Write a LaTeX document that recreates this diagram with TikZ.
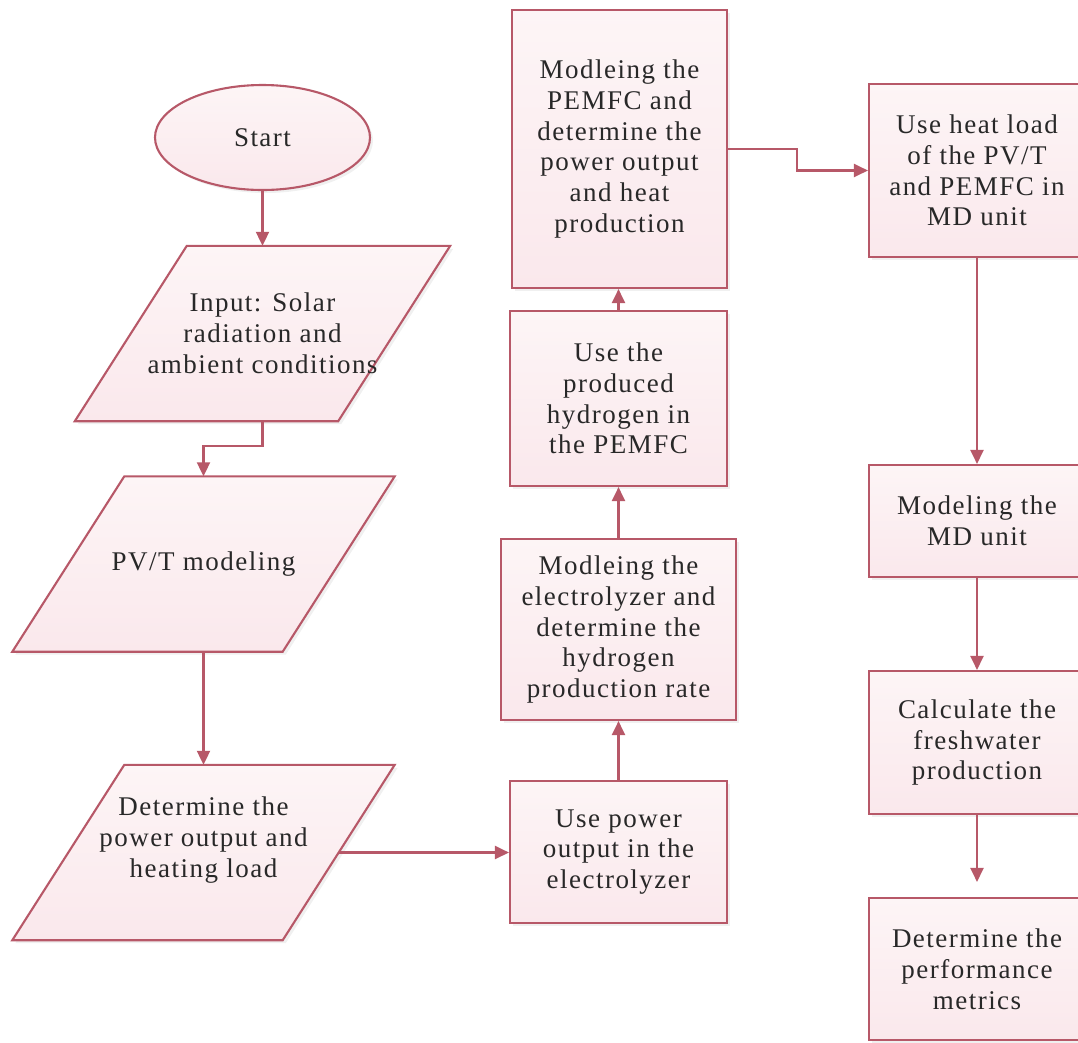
\documentclass[tikz,border=0pt]{standalone}
\usepackage{fontspec}
\setmainfont{Liberation Serif}[LetterSpace=5.5]
\usetikzlibrary{arrows.meta,backgrounds,calc,shapes.geometric,shadows}
\definecolor{edge}{RGB}{183,88,104}
\definecolor{filltop}{RGB}{253,245,246}
\definecolor{fillbot}{RGB}{250,232,236}
\definecolor{ink}{RGB}{40,40,40}

\begin{document}
\begin{tikzpicture}[
  x=1pt, y=-1pt,
  every node/.style={font=\fontsize{27}{30.8}\selectfont, text=ink, align=center},
  shadebox/.style={draw=edge, line width=2.1pt, top color=filltop, bottom color=fillbot,
    drop shadow={opacity=0.12, shadow xshift=3pt, shadow yshift=-3pt}},
  box/.style={shadebox, rectangle, inner sep=0pt},
  io/.style={rectangle, inner sep=0pt, minimum width=270pt, minimum height=175pt},
  arrow/.style={draw=edge, line width=2.1pt, -{Triangle[length=14pt,width=13pt]}}
]
\useasboundingbox (0,0) rectangle (1078,1042);

% left column
\node[ellipse, shadebox, minimum width=215pt, minimum height=105pt] (start) at (262.5,137.5) {Start};
\node[io, minimum width=263pt] (input) at (262.5,333.5) {Input: Solar\\radiation and\\ambient conditions};
\node[io] (pvt) at (203.5,564) {PV/T modeling};
\node[io] (power) at (203.5,852.5) {Determine the\\power output and\\heating load\\\mbox{}};

% middle column
\node[box, minimum width=217pt, minimum height=142pt] (usepower) at (618.5,852) {Use power\\output in the\\electrolyzer};
\node[box, minimum width=235pt, minimum height=181pt] (elec) at (618.5,629.5) {Modleing the\\electrolyzer and\\determine the\\hydrogen\\production rate};
\node[box, minimum width=217pt, minimum height=175pt] (hydro) at (618.5,398.5) {Use the\\produced\\hydrogen in\\the PEMFC};
\node[box, minimum width=215pt, minimum height=278pt] (pemfc) at (619.5,149) {Modleing the\\PEMFC and\\determine the\\power output\\and heat\\production};

% right column
\node[box, minimum width=216pt, minimum height=173pt] (heat) at (977,170.5) {Use heat load\\of the PV/T\\and PEMFC in\\MD unit};
\node[box, minimum width=216pt, minimum height=112pt] (md) at (977,521) {Modeling the\\MD unit};
\node[box, minimum width=216pt, minimum height=143pt] (fresh) at (977,742.5) {Calculate the\\freshwater\\production};
\node[box, minimum width=216pt, minimum height=142pt] (metrics) at (977,969) {Determine the\\performance\\metrics};

% parallelogram outlines behind the io texts
\begin{scope}[on background layer]
\foreach \p in {input,pvt,power}
  \path[shadebox] ($(\p.south west)+(-56,0)$) -- ($(\p.south east)+(-56,0)$)
    -- ($(\p.north east)+(56,0)$) -- ($(\p.north west)+(56,0)$) -- cycle;
\end{scope}

\draw[arrow] (start) -- (input);
\draw[arrow] (input.south) -- ++(0,25) -| (pvt.north);
\draw[arrow] (pvt) -- (power);
\draw[arrow] (power.east) -- (power.east -| usepower.west);
\draw[arrow] (usepower) -- (elec);
\draw[arrow] (elec) -- (hydro);
\draw[arrow] (hydro.north) -- (hydro.north |- pemfc.south);
\draw[arrow] (pemfc.east) -- ++(69,0) |- (heat.west);
\draw[arrow] (heat) -- (md);
\draw[arrow] (md) -- (fresh);
\draw[arrow, shorten >=15pt] (fresh) -- (metrics);

\end{tikzpicture}
\end{document}
